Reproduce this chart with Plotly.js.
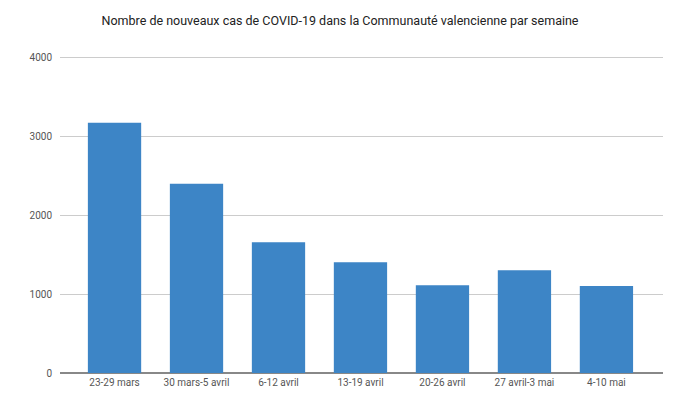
<!DOCTYPE html>
<html><head><meta charset="utf-8">
<script src="https://cdn.plot.ly/plotly-3.0.1.min.js"></script>
<style>html,body{margin:0;padding:0;background:#fff}</style>
</head><body>
<div id="chart" style="width:680px;height:398px"></div>
<script>
const weeks = ["23-29 mars","30 mars-5 avril","6-12 avril","13-19 avril","20-26 avril","27 avril-3 mai","4-10 mai"];
const newCases = [3175, 2400, 1660, 1405, 1113, 1304, 1105];
const yTicks = [0, 1000, 2000, 3000, 4000];

Plotly.newPlot('chart', [{
  type: 'bar',
  x: weeks,
  y: newCases,
  width: 0.65,
  marker: {color: '#3d85c6'},
  hoverinfo: 'x+y'
}], {
  width: 680, height: 398,
  margin: {l: 60, r: 17, t: 53, b: 25, pad: 0},
  paper_bgcolor: '#fff', plot_bgcolor: '#fff',
  font: {family: 'Roboto, sans-serif', size: 10, color: '#555'},
  title: {text: 'Nombre de nouveaux cas de COVID-19 dans la Communauté valencienne par semaine',
          font: {family: 'Roboto, sans-serif', size: 12.5, color: '#222'},
          x: 0.5, xanchor: 'center', y: 0.948, yanchor: 'middle'},
  xaxis: {range: [-0.665, 6.69], showgrid: false, showline: false, zeroline: false,
          ticks: '', ticklabelstandoff: 2, tickfont: {size: 10, color: '#555'}},
  yaxis: {range: [0, 4060], tickvals: yTicks, ticktext: yTicks.map(String),
          showgrid: true, gridcolor: '#cccccc', gridwidth: 1,
          zeroline: true, zerolinecolor: '#888', zerolinewidth: 1.5,
          showline: false, ticks: '', ticklabelstandoff: 7,
          tickfont: {size: 10, color: '#555'}},
  bargap: 0.35,
  showlegend: false
}, {displayModeBar: false});
</script>
</body></html>
